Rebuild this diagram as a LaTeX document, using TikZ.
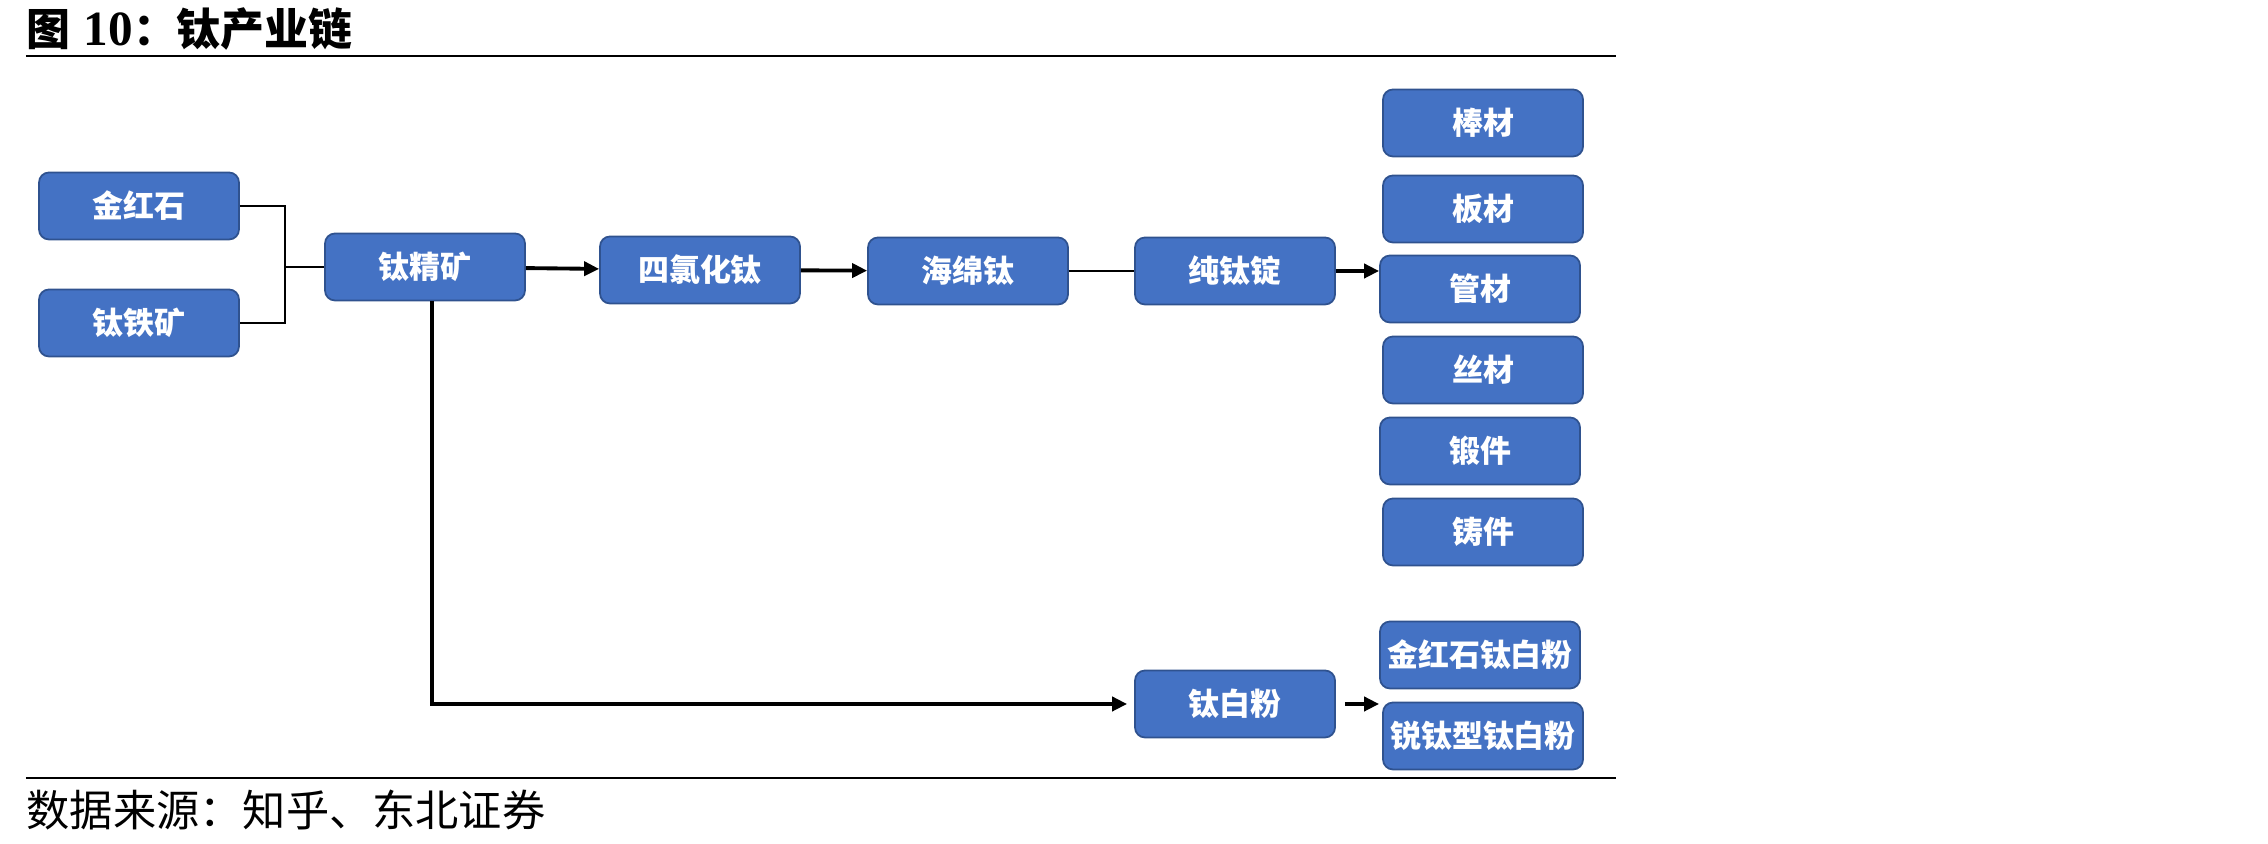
\documentclass[tikz,border=0pt]{standalone}
\usepackage{fontspec}
\setmainfont{Liberation Serif}
\newfontfamily\cjk{Noto Sans CJK SC}
\usepackage{tikz}
\usetikzlibrary{arrows.meta,positioning,calc}
\definecolor{boxblue}{HTML}{4472C4}
\definecolor{boxedge}{HTML}{2F528F}
\tikzset{
  >={Triangle[length=1.5mm,width=1.4mm]},
  stage/.style={draw=boxedge,fill=boxblue,rounded corners=1mm,line width=.5pt,
    minimum width=2cm,minimum height=.67cm,inner sep=0pt,text=white,
    font=\cjk\bfseries\fontsize{8.8}{10}\selectfont},
  link/.style={line width=.75pt},
  flow/.style={->,line width=1.1pt},
  rule/.style={line width=.6pt},
}

\begin{document}
\begin{tikzpicture}[x=1cm,y=1cm]
  \useasboundingbox (0,0) rectangle (22.68,-8.44);
  % title and rules
  \node[anchor=west,inner sep=0pt,font=\cjk\bfseries\fontsize{12.5}{14}\selectfont] (title) at (.26,-.29)
    {图\hspace{.3em}{\rmfamily\bfseries\fontsize{14}{14}\selectfont 10}：钛产业链};
  \draw[rule] (.26,-.56) -- (16.16,-.56);
  \draw[rule] (.26,-7.78) -- (16.16,-7.78);
  \node[anchor=west,inner sep=0pt,font=\cjk\fontsize{12.3}{14}\selectfont] (source) at (.26,-8.10)
    {数据来源：知乎、东北证券};

  % ores
  \node[stage] (jhs) at (1.39,-2.06) {金红石};
  \node[stage] (tty) at (1.39,-3.23) {钛铁矿};
  \node[stage] (tjk) at (4.25,-2.67) {钛精矿};
  \coordinate (join) at (2.85,-2.67);
  \draw[link] (jhs.east) -| (join) |- (tty.east);
  \draw[link] (join) -- (tjk.west);

  % metal chain
  \node[stage] (sclt) at (7.00,-2.70) {四氯化钛};
  \node[stage] (hmt) at (9.68,-2.71) {海绵钛};
  \node[stage] (ctd) at (12.35,-2.71) {纯钛锭};
  \draw[flow] (tjk) -- (sclt);
  \draw[flow] (sclt) -- (hmt);
  \draw[line width=.6pt] (hmt) -- (ctd);

  % titanium products
  \node[stage] (bc) at (14.83,-1.23) {棒材};
  \node[stage] (bancai) at (14.83,-2.09) {板材};
  \node[stage] (gc) at (14.80,-2.89) {管材};
  \node[stage] (sc) at (14.83,-3.70) {丝材};
  \node[stage] (dj) at (14.80,-4.51) {锻件};
  \node[stage] (zj) at (14.83,-5.32) {铸件};
  \draw[flow] (ctd.east) -- (ctd.east -| gc.west);

  % pigment branch
  \node[stage] (tbf) at (12.35,-7.04) {钛白粉};
  \node[stage] (jhstbf) at (14.80,-6.55) {金红石钛白粉};
  \node[stage] (rtxtbf) at (14.83,-7.36) {锐钛型钛白粉};
  \draw[flow,shorten >=.7mm] ([xshift=.7mm]tjk.south) |- (tbf.west);
  \draw[flow,shorten <=.9mm] (tbf.east) -- (tbf.east -| jhstbf.west);
\end{tikzpicture}
\end{document}
